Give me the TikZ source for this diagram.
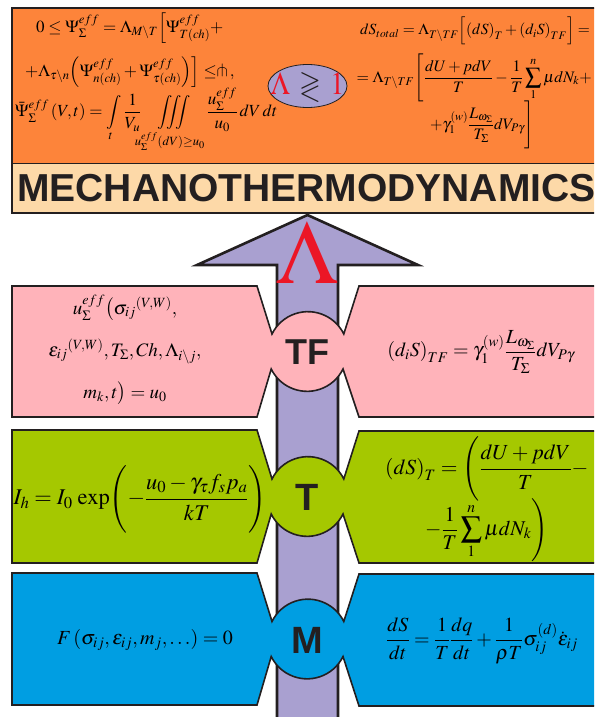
\documentclass[tikz,border=0pt]{standalone}
\usepackage{amsmath,amssymb}
\usepackage{mathptmx}
\usepackage[no-math]{fontspec}
\setmainfont{Liberation Serif}
\newfontfamily\titlefont{Liberation Sans}
\definecolor{edge}{RGB}{35,31,32}
\definecolor{topfill}{RGB}{253,132,58}
\definecolor{titlefill}{RGB}{253,217,168}
\definecolor{arrowfill}{RGB}{169,160,208}
\definecolor{lamred}{RGB}{236,22,38}
\definecolor{tffill}{RGB}{255,179,186}
\definecolor{tfill}{RGB}{165,200,0}
\definecolor{mfill}{RGB}{0,158,226}
\begin{document}
\begin{tikzpicture}[x=1pt,y=-1pt,
    band/.style={draw=edge, line width=1.6pt, line join=miter},
    formula/.style={inner sep=0pt, font=\fontsize{17}{20}\selectfont},
    bigformula/.style={inner sep=0pt, font=\fontsize{20}{24}\selectfont},
    circlabel/.style={inner sep=0pt, text=edge, font=\titlefont\bfseries\fontsize{38}{38}\selectfont}]
    \useasboundingbox (0,0) rectangle (594,717);
    \clip (0,0) rectangle (594,717);
    % 顶部框
    \fill[topfill] (12,8) rectangle (620,163);
    \fill[titlefill] (12,163) rectangle (620,213);
    \draw[edge, line width=0.8pt] (12,163) -- (620,163);
    \draw[edge, line width=2.4pt] (12,8) rectangle (620,213);
    % 左侧公式
    \node (psi1) at (36,28)[formula, anchor=west] {$0\le\Psi^{eff}_{\Sigma}=\Lambda_{M\backslash T}\Bigl[\Psi^{eff}_{T(ch)}+$};
    \node (psi2) at (25,72)[formula, anchor=west] {$+\Lambda_{\tau\backslash n}\Bigl(\Psi^{eff}_{n(ch)}+\Psi^{eff}_{\tau(ch)}\Bigr)\Bigr]\le\pitchfork\,,$};
    \node (psi3) at (15,120)[formula, anchor=west] {$\displaystyle\bar\Psi^{eff}_{\Sigma}\left(V,t\right)=\int\limits_t\frac{1}{V_u}\iiint\limits_{u^{eff}_{\Sigma}(dV)\ge u_0}\frac{u^{eff}_{\Sigma}}{u_0}\,dV\,dt$};
    % 右侧公式
    \node (ds1) at (590,31)[formula, anchor=east, font=\fontsize{15.5}{18}\selectfont] {$dS_{total}=\Lambda_{T\backslash TF}\Bigl[\left(dS\right)_T+\left(d_iS\right)_{TF}\Bigr]=$};
    \node (ds2) at (592,78)[formula, anchor=east, font=\fontsize{16}{19}\selectfont] {$\displaystyle=\Lambda_{T\backslash TF}\Biggl[\frac{dU+pdV}{T}-\frac{1}{T}\sum_1^n\mu dN_k+$};
    \node (ds3) at (430,125)[formula, anchor=west, font=\fontsize{16}{19}\selectfont] {$\displaystyle+\gamma_1^{(w)}\frac{L_{\omega_\Sigma}}{T_\Sigma}dV_{P\gamma}\Biggr]$};
    % 椭圆
    \draw[edge, fill=arrowfill, line width=0.8pt] (307.5,86) ellipse [x radius=39.5, y radius=21.5];
    \node (cond) at (307.5,86)[inner sep=0pt, yscale=1.15, font=\fontsize{28}{28}\selectfont] {$\color{lamred}\Lambda\,\color{edge}\gtrless\,\color{lamred}1$};
    % 标题
    \node (title) at (17,188)[anchor=west, inner sep=0pt, text=edge, font=\titlefont\bfseries\fontsize{39}{39}\selectfont] {MECHANOTHERMODYNAMICS};
    % 箭头
    \filldraw[arrowfill, draw=edge, line width=2.6pt, line join=miter]
        (307.5,215) -- (418,265) -- (338,265) -- (338,730) -- (277,730) -- (277,265) -- (197,265) -- cycle;
    \node (biglam) at (307.5,253)[inner sep=0pt, text=lamred, font=\fontsize{90}{90}\selectfont] {$\Lambda$};
    % TF
    \filldraw[band, fill=tffill] (12,286) -- (257,286) -- (272,334) arc[start angle=206.2, end angle=333.8, radius=40]
        -- (359,286) -- (620,286) -- (620,417) -- (359,417) -- (343,369) arc[start angle=26.2, end angle=153.8, radius=40]
        -- (257,417) -- (12,417) -- cycle;
    \node (tf) at (307.5,352)[circlabel, font=\titlefont\bfseries\fontsize{36}{36}\selectfont] {TF};
    \node (tfleft) at (125,350)[formula, align=center, font=\fontsize{19}{42}\selectfont]
        {$u^{eff}_{\Sigma}\bigl(\sigma_{ij}{}^{(V,W)},$\\ $\epsilon_{ij}{}^{(V,W)},T_\Sigma,Ch,\Lambda_{i\backslash j},$\\ $m_k,t\bigr)=u_0$};
    \node (tfright) at (481,352)[bigformula] {$\displaystyle\left(d_iS\right)_{TF}=\gamma_1^{(w)}\frac{L_{\omega_\Sigma}}{T_\Sigma}dV_{P\gamma}$};
    % T
    \filldraw[band, fill=tfill] (12,430) -- (257,430) -- (272,479) arc[start angle=206.2, end angle=333.8, radius=40]
        -- (359,431) -- (620,431) -- (620,563) -- (359,563) -- (343,514) arc[start angle=26.2, end angle=153.8, radius=40]
        -- (257,563) -- (12,563) -- cycle;
    \node (t) at (307.5,497)[circlabel] {T};
    \node (tleft) at (140,499)[bigformula, font=\fontsize{22.5}{26}\selectfont] {$\displaystyle I_h=I_0\,\exp\Biggl(-\frac{u_0-\gamma_\tau f_sp_a}{kT}\Biggr)$};
    \node (tright1) at (385,469)[bigformula, anchor=west, font=\fontsize{21.5}{26}\selectfont] {$\displaystyle\left(dS\right)_T=\Biggl(\frac{dU+pdV}{T}-$};
    \node (tright2) at (425,530)[bigformula, anchor=west, font=\fontsize{21}{26}\selectfont] {$\displaystyle-\frac{1}{T}\sum_1^n\mu dN_k\Biggr)$};
    % M
    \filldraw[band, fill=mfill] (12,573) -- (257,573) -- (272,621.5) arc[start angle=206.2, end angle=333.8, radius=40]
        -- (359,574) -- (620,574) -- (620,706) -- (359,706) -- (343,656.5) arc[start angle=26.2, end angle=153.8, radius=40]
        -- (257,705) -- (12,705) -- cycle;
    \node (m) at (307.5,640)[circlabel] {M};
    \node (mleft) at (145,640)[bigformula] {$F\left(\sigma_{ij},\epsilon_{ij},m_j,\ldots\right)=0$};
    \node (mright) at (482,641)[bigformula] {$\displaystyle\frac{dS}{dt}=\frac{1}{T}\frac{dq}{dt}+\frac{1}{\rho T}\sigma_{ij}^{(d)}\dot\epsilon_{ij}$};
\end{tikzpicture}
\end{document}
